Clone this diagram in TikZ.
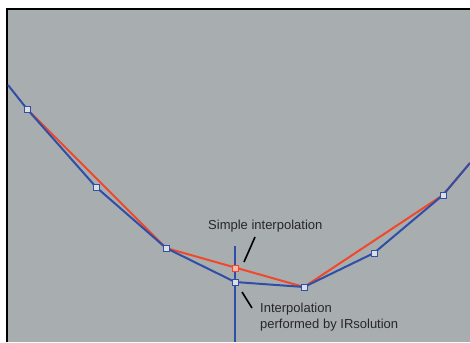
\documentclass[tikz,border=0pt]{standalone}
\usepackage{fontspec}
\setmainfont{Liberation Sans}
\definecolor{bg}{HTML}{A8ADB0}
\definecolor{bl}{HTML}{2F4FA6}
\definecolor{rd}{HTML}{F2482A}
\begin{document}
\begin{tikzpicture}[x=1pt,y=-1pt,
  curve/.style={line width=2pt,line join=round},
  mk/.style={draw=bl,fill=bg!40!white,line width=0.7pt,minimum size=6pt,inner sep=0pt,rectangle},
  mkr/.style={draw=rd,fill=rd!40!white,line width=0.7pt,minimum size=6pt,inner sep=0pt,rectangle},
  lbl/.style={font=\fontsize{13}{16}\selectfont,text=black!85,align=left,inner sep=0pt,anchor=base west},
  tick/.style={line width=1.6pt,black}]
\useasboundingbox (0,0) rectangle (470,342);
\fill[white] (0,0) rectangle (470,342);
\fill[bg] (7,9) rectangle (470,342);
\draw[line width=1.8pt,black] (7,342) -- (7,9) -- (470,9);
\coordinate (s) at (8,85);
\coordinate (e) at (470,163);
\coordinate (p1) at (27,109);
\coordinate (p2) at (96,187);
\coordinate (p3) at (166,248);
\coordinate (p4) at (235,282);
\coordinate (p5) at (304,287);
\coordinate (p6) at (374,253);
\coordinate (p7) at (443,195);
\coordinate (q4) at (235,268);
\coordinate (vt) at (235,246);
\coordinate (vb) at (235,342);
% red simple interpolation
\draw[curve,rd] (p1) -- (p3) -- (p5) -- (p7) -- (e);
% blue curve
\draw[curve,bl] (s) -- (p1) -- (p2) -- (p3) -- (p4) -- (p5) -- (p6) -- (p7) -- (e);
\draw[line width=1.6pt,bl] (vt) -- (vb);
% markers
\foreach \p in {p1,p2,p3,p4,p5,p6,p7} \node[mk] (m\p) at (\p) {};
\node[mkr] (mq4) at (q4) {};
% labels
\node[lbl] (t1) at (208,229) {Simple interpolation};
\node[lbl] (t2) at (260,328) {Interpolation\\performed by IRsolution};
\coordinate (a1) at (255,237);
\coordinate (a2) at (244,262);
\coordinate (b1) at (242,292);
\coordinate (b2) at (252,308);
\draw[tick] (a1) -- (a2);
\draw[tick] (b1) -- (b2);
\end{tikzpicture}
\end{document}
